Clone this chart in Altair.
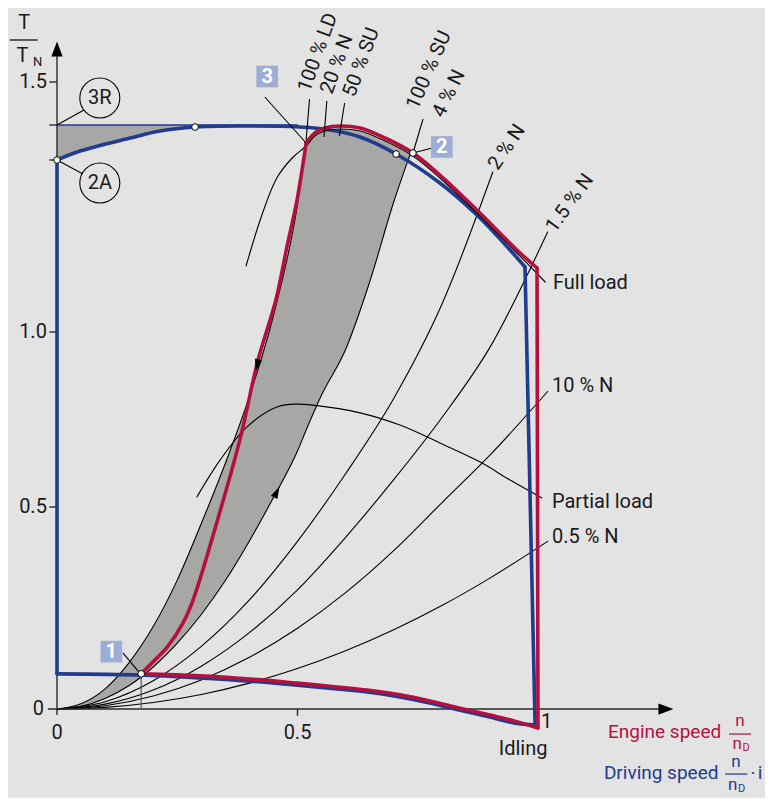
import altair as alt
import pandas as pd

# ---------------- data ----------------
# Engine speed characteristic (red), pieces of a closed loop
eng_rise_x = [0.175, 0.193, 0.229, 0.262, 0.283, 0.335, 0.380, 0.418, 0.455, 0.478, 0.499, 0.518]
eng_rise_y = [0.087, 0.109, 0.153, 0.213, 0.270, 0.473, 0.691, 0.920, 1.064, 1.170, 1.264, 1.378]
eng_top_x = [0.518, 0.536, 0.557, 0.588, 0.630, 0.682, 0.740, 0.796, 0.873, 0.956, 0.998]
eng_top_y = [1.378, 1.398, 1.408, 1.412, 1.408, 1.388, 1.358, 1.314, 1.244, 1.164, 1.128]
eng_side_x = [0.998, 1.000]
eng_side_y = [1.128, -0.047]
eng_bot_x = [1.000, 0.952, 0.900, 0.838, 0.775, 0.713, 0.645, 0.588, 0.499, 0.401, 0.297, 0.175]
eng_bot_y = [-0.047, -0.030, -0.015, 0.002, 0.020, 0.035, 0.047, 0.054, 0.064, 0.074, 0.082, 0.087]

# Driving speed characteristic (blue)
drv_left_x = [0.0, 0.0]
drv_left_y = [0.087, 1.344]
drv_top_x = [0.0, 0.048, 0.152, 0.214, 0.287, 0.380, 0.505, 0.568, 0.630, 0.705, 0.796, 0.873, 0.942, 0.973]
drv_top_y = [1.344, 1.362, 1.388, 1.402, 1.410, 1.412, 1.410, 1.404, 1.390, 1.356, 1.298, 1.234, 1.164, 1.130]
drv_side_x = [0.973, 0.994]
drv_side_y = [1.130, -0.040]
drv_bot_x = [0.994, 0.952, 0.900, 0.838, 0.775, 0.713, 0.645, 0.588, 0.499, 0.401, 0.297, 0.175, 0.0]
drv_bot_y = [-0.040, -0.035, -0.020, -0.003, 0.015, 0.030, 0.042, 0.049, 0.059, 0.069, 0.077, 0.084, 0.087]

# 3R level line
r3_x = [0.0, 0.50]
r3_y = [1.414, 1.414]

# Full-load curve (thin black)
fl_x = [0.393, 0.426, 0.457, 0.489, 0.518, 0.536, 0.557, 0.588, 0.630, 0.682, 0.740, 0.796, 0.873, 0.956, 1.015]
fl_y = [1.132, 1.234, 1.308, 1.348, 1.372, 1.392, 1.402, 1.406, 1.402, 1.382, 1.352, 1.308, 1.238, 1.158, 1.100]

# Partial-load curve
pl_x = [0.291, 0.339, 0.395, 0.457, 0.501, 0.532, 0.630, 0.713, 0.796, 0.879, 0.942, 1.008]
pl_y = [0.529, 0.634, 0.729, 0.786, 0.794, 0.791, 0.769, 0.734, 0.683, 0.629, 0.577, 0.526]

# Shaded band (between 100 % LD curve and 100 % SU / 4 % N curve)
band_x = [0.0, 0.05, 0.10, 0.15, 0.20, 0.25, 0.30, 0.35, 0.40, 0.45, 0.50, 0.518, 0.55, 0.60, 0.65, 0.70, 0.734]
band_lo = [0.0, 0.0065, 0.026, 0.058, 0.104, 0.163, 0.234, 0.318, 0.416, 0.527, 0.660, 0.720, 0.820, 0.950, 1.100, 1.260, 1.355]
band_hi = [0.0, 0.013, 0.050, 0.115, 0.204, 0.319, 0.459, 0.625, 0.816, 1.033, 1.255, 1.372, 1.402, 1.406, 1.394, 1.372, 1.355]

# Shaded wedge top left (between 3R level and driving curve)
tl_x = [0.0, 0.048, 0.10, 0.152, 0.214, 0.287, 0.380]
tl_lo = [1.344, 1.362, 1.376, 1.388, 1.402, 1.410, 1.414]
tl_hi = [1.414, 1.414, 1.414, 1.414, 1.414, 1.414, 1.414]

# Curve 100 % LD (left band edge)
ld_x = [0.0, 0.05, 0.10, 0.15, 0.20, 0.25, 0.30, 0.35, 0.40, 0.45, 0.50, 0.518]
ld_y = [0.0, 0.013, 0.050, 0.115, 0.204, 0.319, 0.459, 0.625, 0.816, 1.033, 1.255, 1.375]
# Curve 100 % SU / 4 % N (right band edge) = band_lo
# Other converter curves
n2_x = [0.0, 0.1, 0.2, 0.3, 0.4, 0.5, 0.6, 0.7, 0.8, 0.906]
n2_y = [0.0, 0.018, 0.070, 0.155, 0.270, 0.415, 0.595, 0.810, 1.055, 1.320]
n15_x = [0.0, 0.1, 0.2, 0.3, 0.4, 0.5, 0.6, 0.7, 0.8, 0.9, 1.02]
n15_y = [0.0, 0.012, 0.047, 0.106, 0.189, 0.295, 0.425, 0.578, 0.755, 0.956, 1.200]
n10_x = [0.0, 0.1, 0.2, 0.3, 0.4, 0.5, 0.6, 0.7, 0.8, 0.9, 1.02]
n10_y = [0.0, 0.008, 0.032, 0.072, 0.128, 0.200, 0.288, 0.392, 0.512, 0.648, 0.830]
n05_x = [0.0, 0.1, 0.2, 0.3, 0.4, 0.5, 0.6, 0.7, 0.8, 0.9, 1.02]
n05_y = [0.0, 0.004, 0.016, 0.036, 0.064, 0.100, 0.144, 0.196, 0.256, 0.324, 0.415]

# Marked operating points (small white dots)
dot_x = [0.0, 0.287, 0.705, 0.740, 0.175]
dot_y = [1.344, 1.410, 1.356, 1.358, 0.087]

# Tick values
y_ticks = [0.5, 1.0, 1.5]
y_tick_labels = ["0.5", "1.0", "1.5"]
y_extra_ticks = [1.414, 1.344]
x_ticks = [0.0, 0.5]
x_tick_labels = ["0", "0.5"]

# ---------------- styling ----------------
FONT = "Roboto"
BG = "#e3e3e3"
RED = "#b5103d"
BLUE = "#213b8e"
GRAY = "#a7a7a5"
BOX = "#9cadd6"
FS = 20

XS = alt.Scale(domain=[0, 1], range=[49, 530], nice=False, zero=False)
YS = alt.Scale(domain=[0, 0.5, 1, 1.5], range=[701, 499, 324, 74], nice=False, zero=False)


def X(f="x"):
    return alt.X(f + ":Q", scale=XS, axis=None)


def Y(f="y"):
    return alt.Y(f + ":Q", scale=YS, axis=None)


def line(xs, ys, color, width, interp="linear"):
    df = pd.DataFrame({"x": xs, "y": ys, "o": list(range(len(xs)))})
    return alt.Chart(df).mark_line(color=color, strokeWidth=width, interpolate=interp,
                                   strokeCap="round", strokeJoin="round").encode(
        x=X(), y=Y(), order="o:Q")


def area(xs, lo, hi, color):
    df = pd.DataFrame({"x": xs, "lo": lo, "hi": hi})
    return alt.Chart(df).mark_area(color=color, opacity=1, interpolate="monotone").encode(
        x=X(), y=Y("lo"), y2="hi:Q")


def rules(segs, color="black", width=1.0):
    df = pd.DataFrame(segs, columns=["x", "y", "x2", "y2"])
    return alt.Chart(df).mark_rule(color=color, strokeWidth=width).encode(
        x=X(), y=Y(), x2="x2:Q", y2="y2:Q")


def texts(rows, **kw):
    df = pd.DataFrame(rows, columns=["x", "y", "t"])
    base = dict(font=FONT, fontSize=FS, color="#1a1a1a", align="left", baseline="middle")
    base.update(kw)
    return alt.Chart(df).mark_text(**base).encode(x=X(), y=Y(), text="t:N")


def symbols(xs, ys, **kw):
    df = pd.DataFrame({"x": xs, "y": ys})
    return alt.Chart(df).mark_point(**kw).encode(x=X(), y=Y())


layers = []
# shaded regions
layers.append(area(band_x, band_lo, band_hi, GRAY))
layers.append(area(tl_x, tl_lo, tl_hi, GRAY))

# converter curves (thin black)
for cx, cy in [(ld_x, ld_y), (band_x, band_lo), (n2_x, n2_y), (n15_x, n15_y), (n10_x, n10_y), (n05_x, n05_y)]:
    layers.append(line(cx, cy, "black", 1.1, "monotone"))
layers.append(line(pl_x, pl_y, "black", 1.1, "catmull-rom"))

# axes
layers.append(rules([
    (0.0, -0.015, 0.0, 1.57),
    (-0.019, 0.0, 1.26, 0.0),
], color="#2a2a2a", width=1.4))
tick_segs = [(-0.016, v, 0.0, v) for v in y_ticks + y_extra_ticks] + [(0.5, 0.0, 0.5, -0.017)]
layers.append(rules(tick_segs, color="#2a2a2a", width=1.4))
layers.append(rules([(0.175, 0.0, 0.175, 0.087)], color="#555555", width=1.2))
layers.append(symbols([0.0], [1.566], shape="M0,-1L0.75,1L-0.75,1Z", size=225, filled=True,
                      color="black", opacity=1))
layers.append(symbols([1.266], [0.0], shape="M1,0L-1,-0.75L-1,0.75Z", size=225, filled=True,
                      color="black", opacity=1))

# driving speed (blue)
layers.append(line(r3_x, r3_y, BLUE, 1.6))
layers.append(line(drv_left_x, drv_left_y, BLUE, 3.6))
layers.append(line(drv_top_x, drv_top_y, BLUE, 3.6, "catmull-rom"))
layers.append(line(drv_side_x, drv_side_y, BLUE, 3.6))
layers.append(line(drv_bot_x, drv_bot_y, BLUE, 3.6, "catmull-rom"))

# full load thin black
layers.append(line(fl_x, fl_y, "black", 1.1, "catmull-rom"))

# engine speed (red)
layers.append(line(eng_rise_x, eng_rise_y, RED, 3.6, "catmull-rom"))
layers.append(line(eng_top_x, eng_top_y, RED, 3.6, "catmull-rom"))
layers.append(line(eng_side_x, eng_side_y, RED, 3.6))
layers.append(line(eng_bot_x, eng_bot_y, RED, 3.6, "catmull-rom"))

# direction arrows on curves
layers.append(symbols([0.416], [0.905], shape="M0,-1L0.6,1L-0.6,1Z", size=150, filled=True,
                      color="black", opacity=1, angle=194))
layers.append(symbols([0.457], [0.543], shape="M0,-1L0.6,1L-0.6,1Z", size=150, filled=True,
                      color="black", opacity=1, angle=26))

# leader lines
layers.append(rules([
    (0.0, 1.414, 0.056, 1.444),     # 3R
    (0.0, 1.344, 0.054, 1.316),     # 2A
    (0.137, 0.139, 0.170, 0.092),   # box 1
    (0.740, 1.358, 0.780, 1.368),   # box 2
    (0.432, 1.470, 0.518, 1.378),   # box 3
    (0.518, 1.384, 0.525, 1.466),   # 100 % LD
    (0.555, 1.390, 0.561, 1.462),   # 20 % N
    (0.587, 1.392, 0.598, 1.458),   # 50 % SU
    (0.740, 1.358, 0.761, 1.426),   # 100 % SU / 4 % N
], color="black", width=1.1))

# small white dots
layers.append(symbols(dot_x, dot_y, shape="circle", size=45, filled=True, fill="white",
                      stroke="black", strokeWidth=1, opacity=1))

# circled labels 3R / 2A
layers.append(symbols([0.089, 0.089], [1.468, 1.298], shape="circle", size=1600, filled=True,
                      fill=BG, stroke="black", strokeWidth=1.1, opacity=1))
layers.append(texts([(0.089, 1.468, "3R"), (0.089, 1.298, "2A")], align="center", fontSize=20))

# numbered boxes
box_x = [0.113, 0.800, 0.437]
box_y = [0.142, 1.370, 1.511]
layers.append(alt.Chart(pd.DataFrame({"x": box_x, "y": box_y})).mark_square(
    size=470, color=BOX, opacity=1).encode(x=X(), y=Y()))
layers.append(texts([(box_x[0], box_y[0], "1"), (box_x[1], box_y[1], "2"), (box_x[2], box_y[2], "3")],
                    align="center", color="white", fontWeight="bold", fontSize=20))

# tick labels
layers.append(texts([(-0.021, v, t) for v, t in zip(y_ticks, y_tick_labels)] + [(-0.027, 0.0, "0")],
                    align="right"))
layers.append(texts([(v, -0.059, t) for v, t in zip(x_ticks, x_tick_labels)], align="center"))
layers.append(texts([(1.006, -0.032, "1")], align="left"))
layers.append(texts([(0.969, -0.099, "Idling")], align="center"))

# right-hand curve labels
layers.append(texts([
    (1.031, 1.098, "Full load"),
    (1.029, 0.846, "10 % N"),
    (1.029, 0.514, "Partial load"),
    (1.029, 0.426, "0.5 % N"),
]))

# rotated labels
layers.append(texts([(0.513, 1.482, "100 % LD")], angle=290))
layers.append(texts([(0.560, 1.478, "20 % N")], angle=290))
layers.append(texts([(0.607, 1.472, "50 % SU")], angle=290))
layers.append(texts([(0.738, 1.448, "100 % SU")], angle=294))
layers.append(texts([(0.792, 1.432, "4 % N")], angle=296))
layers.append(texts([(0.906, 1.328, "2 % N")], angle=304))
layers.append(texts([(1.025, 1.204, "1.5 % N")], angle=306))

# y-axis title T / T_N
layers.append(texts([(-0.068, 1.618, "T"), (-0.072, 1.552, "T")], align="center"))
layers.append(texts([(-0.050, 1.540, "N")], align="left", fontSize=13))
layers.append(rules([(-0.098, 1.584, -0.040, 1.584)], color="black", width=1.2))

# speed legend
layers.append(texts([(1.1455, -0.057, "Engine speed")], color=RED, fontSize=19))
layers.append(texts([(1.420, -0.030, "n"), (1.414, -0.087, "n")], color=RED, align="center", fontSize=17))
layers.append(texts([(1.425, -0.097, "D")], color=RED, fontSize=11))
layers.append(rules([(1.397, -0.062, 1.443, -0.062)], color=RED, width=1.2))

layers.append(texts([(1.137, -0.158, "Driving speed")], color=BLUE, fontSize=19))
layers.append(texts([(1.4116, -0.131, "n"), (1.405, -0.188, "n")], color=BLUE, align="center", fontSize=17))
layers.append(texts([(1.416, -0.198, "D")], color=BLUE, fontSize=11))
layers.append(rules([(1.389, -0.161, 1.435, -0.161)], color=BLUE, width=1.2))
layers.append(texts([(1.447, -0.160, "·"), (1.4615, -0.158, "i")], color=BLUE, align="center", fontSize=19))

chart = alt.layer(*layers).properties(
    width=757,
    height=790,
    background=BG,
    padding=0,
    autosize=alt.AutoSizeParams(type="none"),
).configure_view(strokeWidth=0)

chart.save("out.html", embed_options={"renderer": "svg", "actions": False})
